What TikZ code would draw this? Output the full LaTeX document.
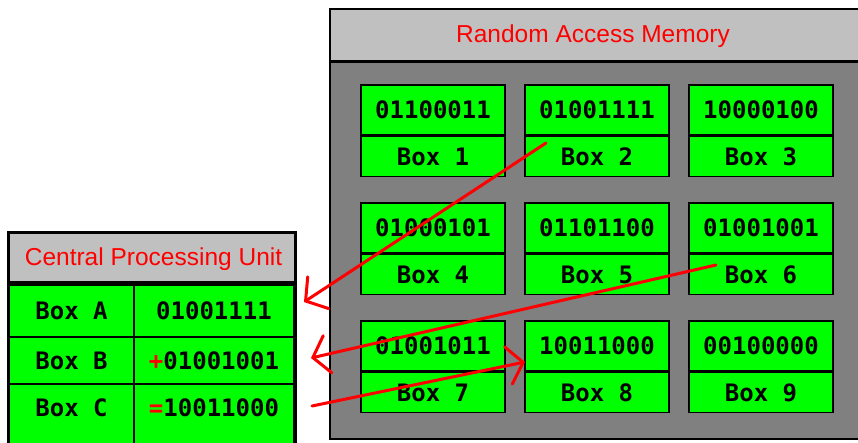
\documentclass[tikz,border=0pt]{standalone}
\usepackage{fontspec}
\setmainfont{Liberation Sans}
\setmonofont{DejaVu Sans Mono}
\usetikzlibrary{arrows.meta}

\definecolor{cellgreen}{RGB}{0,255,0}
\definecolor{bargray}{RGB}{192,192,192}
\definecolor{memgray}{RGB}{128,128,128}

\tikzset{
  cell/.style={draw=black, line width=1.5pt, fill=cellgreen, inner sep=0pt,
    font=\fontsize{24}{24}\selectfont\ttfamily\bfseries},
  valcell/.style={cell, minimum width=144pt, minimum height=50pt},
  namecell/.style={cell, minimum width=144pt, minimum height=40pt},
  cpuname/.style={cell, minimum width=125pt},
  cpuval/.style={cell, minimum width=160pt},
  bartitle/.style={text=red, inner sep=0pt, font=\fontsize{24.5}{24.5}\selectfont},
  wire/.style={red, line width=3pt, line cap=round,
    -{Straight Barb[length=15pt,width=38pt,line cap=round]}}
}

\begin{document}
\begin{tikzpicture}[x=1pt, y=-1pt]
    \clip (0,0) rectangle (858,442);
    \fill[white] (0,0) rectangle (858,442);

    % memory frame
    \draw[line width=2pt, fill=memgray] (330,9) rectangle (880,439);
    \fill[bargray] (331,10) rectangle (880,60);
    \draw[line width=3pt] (330,61.5) -- (880,61.5);
    \node[bartitle] (ramtitle) at (593,36) {Random Access Memory};

    \foreach \n/\x/\y/\bits in {1/433/110/01100011, 2/597/110/01001111, 3/761/110/10000100,
                                4/433/228/01000101, 5/597/228/01101100, 6/761/228/01001001,
                                7/433/346/01001011, 8/597/346/10011000, 9/761/346/00100000}
    {
        \node[valcell] (v\n) at (\x,\y) {\bits};
        \node[namecell, anchor=north] (b\n) at (v\n.south) {Box \n};
    }

    % processor frame
    \draw[line width=3pt, fill=bargray] (8,232) rectangle (295,460);
    \node[bartitle] (cputitle) at (153.5,259) {Central Processing Unit};
    \draw[line width=4pt] (8,283) -- (295,283);

    \node[cpuname, minimum height=52pt] (nA) at (71.5,311) {Box A};
    \node[cpuval, minimum height=52pt] (vA) at (214,311) {01001111};
    \node[cpuname, minimum height=47pt] (nB) at (71.5,360.5) {Box B};
    \node[cpuval, minimum height=47pt] (vB) at (214,360.5) {{\color{red}+}01001001};
    \node[cpuname, minimum height=60pt, text depth=13pt] (nC) at (71.5,414) {Box C};
    \node[cpuval, minimum height=60pt, text depth=13pt] (vC) at (214,414) {{\color{red}=}10011000};

    % data moves
    \coordinate (from2) at (546,143);
    \coordinate (toA) at (304,302);
    \coordinate (from6) at (716,265);
    \coordinate (toB) at (311,358);
    \coordinate (fromC) at (312,406);
    \coordinate (to8) at (525,362);
    \draw[wire] (from2) -- (toA);
    \draw[wire] (from6) -- (toB);
    \draw[wire] (fromC) -- (to8);
\end{tikzpicture}
\end{document}
